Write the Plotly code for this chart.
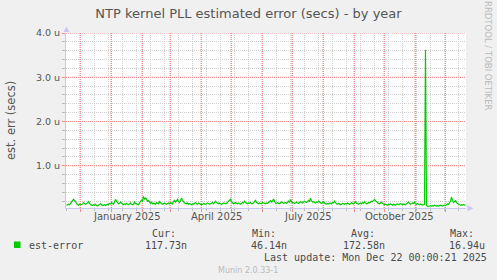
import datetime as dt
import plotly.graph_objects as go

# ---------------- data ----------------
title_text = "NTP kernel PLL estimated error (secs) - by year"
y_title = "est. err (secs)"
series_name = "est-error"
series_color = "#00CC00"
start_date = "2024-11-17"
end_date = "2025-12-22"

# daily consolidated values, in microseconds
values_us = [
    0.10,0.11,0.13,0.12,0.15,0.17,0.21,0.24,0.22,0.18,0.14,0.12,0.11,0.13,0.12,0.12,0.14,0.17,0.15,0.13,
    0.14,0.17,0.19,0.15,0.12,0.11,0.10,0.12,0.11,0.13,0.10,0.09,0.11,0.12,0.14,0.12,0.10,0.11,0.12,0.10,
    0.11,0.13,0.12,0.15,0.14,0.17,0.15,0.13,0.18,0.24,0.20,0.16,0.14,0.15,0.18,0.16,0.13,0.12,0.14,0.13,
    0.15,0.13,0.12,0.14,0.16,0.13,0.12,0.13,0.18,0.15,0.14,0.13,0.12,0.16,0.18,0.22,0.20,0.31,0.24,0.27,
    0.25,0.20,0.22,0.17,0.15,0.18,0.14,0.16,0.15,0.13,0.17,0.15,0.14,0.19,0.16,0.14,0.13,0.15,0.16,0.14,
    0.13,0.15,0.16,0.14,0.17,0.15,0.14,0.19,0.22,0.18,0.20,0.24,0.19,0.17,0.21,0.27,0.22,0.18,0.16,0.15,
    0.14,0.16,0.13,0.15,0.14,0.12,0.14,0.13,0.15,0.17,0.14,0.13,0.16,0.15,0.14,0.12,0.13,0.15,0.14,0.13,
    0.14,0.16,0.15,0.13,0.14,0.15,0.17,0.14,0.16,0.20,0.17,0.15,0.14,0.16,0.15,0.13,0.14,0.16,0.15,0.14,
    0.15,0.17,0.19,0.21,0.24,0.19,0.16,0.14,0.15,0.17,0.15,0.14,0.16,0.15,0.13,0.15,0.17,0.16,0.20,0.17,
    0.15,0.14,0.16,0.15,0.17,0.14,0.15,0.16,0.19,0.22,0.17,0.15,0.14,0.16,0.15,0.14,0.17,0.16,0.15,0.14,
    0.16,0.15,0.17,0.19,0.21,0.18,0.20,0.25,0.19,0.16,0.15,0.17,0.15,0.14,0.16,0.18,0.17,0.15,0.16,0.17,
    0.15,0.18,0.20,0.17,0.24,0.19,0.16,0.17,0.15,0.16,0.18,0.16,0.15,0.17,0.19,0.17,0.16,0.18,0.20,0.18,
    0.17,0.19,0.22,0.20,0.27,0.21,0.18,0.19,0.17,0.16,0.18,0.17,0.20,0.18,0.16,0.15,0.17,0.19,0.16,0.14,
    0.13,0.15,0.14,0.16,0.15,0.14,0.17,0.16,0.20,0.16,0.14,0.13,0.15,0.14,0.12,0.13,0.15,0.14,0.13,0.15,
    0.14,0.16,0.15,0.13,0.14,0.17,0.15,0.14,0.16,0.19,0.15,0.14,0.13,0.15,0.16,0.14,0.17,0.15,0.19,0.16,
    0.14,0.15,0.17,0.16,0.18,0.20,0.19,0.22,0.24,0.21,0.18,0.17,0.15,0.14,0.16,0.18,0.15,0.13,0.12,0.13,
    0.12,0.11,0.13,0.12,0.14,0.12,0.11,0.13,0.12,0.11,0.13,0.14,0.12,0.13,0.15,0.13,0.12,0.14,0.13,0.12,
    0.14,0.16,0.18,0.15,0.13,0.14,0.16,0.15,0.18,0.14,0.13,0.15,0.14,0.12,0.13,0.12,0.11,0.12,0.13,3.62,
    0.10,0.09,0.08,0.09,0.10,0.09,0.10,0.09,0.11,0.10,0.09,0.10,0.09,0.10,0.11,0.10,0.09,0.10,0.11,0.10,
    0.12,0.14,0.13,0.16,0.20,0.29,0.21,0.17,0.19,0.22,0.16,0.14,0.13,0.12,0.11,0.12,0.11,0.12,0.11,0.12,
]

month_label_starts = ["2025-01-01", "2025-04-01", "2025-07-01", "2025-10-01"]
month_labels = ["January 2025", "April 2025", "July 2025", "October 2025"]
y_ticks = [1.0, 2.0, 3.0, 4.0]
y_tick_labels = ["1.0 u", "2.0 u", "3.0 u", "4.0 u"]
y_min, y_max = 0.046, 4.0

stat_headers = ["Cur:", "Min:", "Avg:", "Max:"]
stat_values = ["117.73n", "46.14n", "172.58n", "16.94u"]
last_update = "Last update: Mon Dec 22 00:00:21 2025"
munin_version = "Munin 2.0.33-1"
credit = "RRDTOOL / TOBI OETIKER"

# ---------------- build ----------------
t0 = dt.datetime.fromisoformat(start_date)
t1 = dt.datetime.fromisoformat(end_date)
dates = [t0 + dt.timedelta(days=i, hours=12) for i in range(len(values_us))]

def next_month(d):
    return (d.replace(day=28) + dt.timedelta(days=4)).replace(day=1)

def mid_month(s):
    d = dt.datetime.fromisoformat(s)
    return d + (next_month(d) - d) / 2

label_pos = [mid_month(s) for s in month_label_starts]

# month boundaries inside the range (major vertical grid)
month_starts = []
m = next_month(t0.replace(day=1))
while m < t1:
    month_starts.append(m)
    m = next_month(m)

W, H = 497, 280
L, R, T, B = 66, 31, 33, 72
PW, PH = W - L - R, H - T - B

def px(x):
    return (x - L) / PW

def py(y):
    return (H - B - y) / PH

GRAY = "#CFCFCF"
RED = "#F08C8C"
TXT = "#555555"
AX = "#C8C8F0"

fig = go.Figure()
fig.add_trace(go.Scatter(x=dates, y=values_us, mode="lines", name=series_name,
                         line=dict(color=series_color, width=1.2), showlegend=False))

xr = [start_date, end_date]
fig.update_layout(
    width=W, height=H,
    margin=dict(l=L, r=R, t=T, b=B, pad=0),
    paper_bgcolor="#F0F0F0", plot_bgcolor="#FFFFFF",
    title=dict(text=title_text, x=0.5, xanchor="center", y=1 - 13.5 / H, yanchor="middle",
               yref="container", font=dict(family="DejaVu Sans", size=13, color=TXT)),
    xaxis=dict(type="date", range=xr, showticklabels=False,
               tickmode="linear", tick0="2024-12-01", dtick="M1",
               showgrid=True, gridcolor=RED, griddash="1px,1px", gridwidth=1,
               ticks="outside", ticklen=3, tickcolor=RED,
               minor=dict(tick0="2024-12-01", dtick=14 * 86400000, showgrid=True,
                          gridcolor=GRAY, griddash="1px,1px", ticks="outside",
                          ticklen=2, tickcolor="#BBBBBB"),
               showline=True, linecolor=AX, linewidth=1, zeroline=False),
    yaxis=dict(range=[y_min, y_max], tickmode="array", tickvals=y_ticks, ticktext=y_tick_labels,
               showgrid=True, gridcolor=RED, griddash="1px,1px", gridwidth=1,
               ticks="outside", ticklen=3, tickcolor=RED,
               minor=dict(tickmode="linear", tick0=0, dtick=0.2, showgrid=True, gridcolor=GRAY,
                          griddash="1px,1px", ticks="outside", ticklen=3, tickcolor="#BBBBBB"),
               tickfont=dict(family="DejaVu Sans", size=9.5, color=TXT),
               showline=True, linecolor=AX, linewidth=1, zeroline=False),
    showlegend=False,
)

# red major grid drawn above the axis grid, below the data
for ms in month_starts:
    fig.add_shape(type="line", xref="x", yref="paper", x0=ms, x1=ms, y0=0, y1=1,
                  line=dict(color=RED, width=1, dash="1px,1px"), layer="below")
for v in y_ticks:
    fig.add_shape(type="line", xref="paper", yref="y", x0=0, x1=1, y0=v, y1=v,
                  line=dict(color=RED, width=1, dash="1px,1px"), layer="below")

# axis arrows
fig.add_shape(type="path", xref="paper", yref="paper",
              path=f"M {px(63.5)} {py(32)} L {px(69.5)} {py(32)} L {px(66.5)} {py(26.5)} Z",
              fillcolor=AX, line=dict(width=0))
fig.add_shape(type="path", xref="paper", yref="paper",
              path=f"M {px(467.5)} {py(205.3)} L {px(467.5)} {py(211.3)} L {px(473.5)} {py(208.3)} Z",
              fillcolor=AX, line=dict(width=0))

ann = []
def text(s, x, y, size, color=TXT, family="DejaVu Sans", xanchor="left", angle=0, xref="paper"):
    ann.append(dict(text=s, x=x if xref == "x" else px(x), y=py(y), xref=xref, yref="paper",
                    showarrow=False, xanchor=xanchor, yanchor="middle", textangle=angle,
                    font=dict(family=family, size=size, color=color)))

# month labels, centred on their month, placed through the x scale
for pos, lab in zip(label_pos, month_labels):
    text(lab, pos.isoformat(), 216.7, 10, xanchor="center", xref="x")

text(y_title, 11, 120, 11.5, xanchor="center", angle=-90)
text(credit, 488, 56, 8.5, color="#BBBBBB", xanchor="center", angle=90)

# legend
fig.add_shape(type="rect", xref="paper", yref="paper",
              x0=px(14), x1=px(20.5), y0=py(248), y1=py(241.5),
              fillcolor=series_color, line=dict(width=0))
MONO = "DejaVu Sans Mono"
LEG = "#4A4A4A"
text(series_name, 26.5, 245, 10, color=LEG, family=MONO)
hx = [150, 250, 349, 447.5]
vx = [143.3, 249, 340.7, 446.7]
for h, v, a, b in zip(stat_headers, stat_values, hx, vx):
    text(h, a, 233.5, 10, color=LEG, family=MONO)
    text(v, b, 245, 10, color=LEG, family=MONO)
text(last_update, 261.7, 257.7, 10, color=LEG, family=MONO)
text(munin_version, 248, 270, 8, color="#BBBBBB", xanchor="center")

fig.update_layout(annotations=ann)
fig.write_html("out.html")
